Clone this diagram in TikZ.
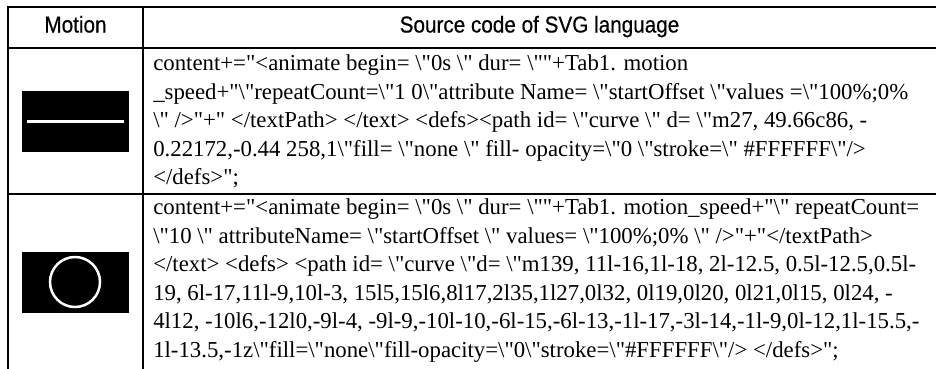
\documentclass[tikz,border=0pt]{standalone}
\usepackage{fontspec}
\setmainfont{Liberation Serif}[Ligatures=TeXOff]
\newfontfamily\headfont{Liberation Sans}[FakeStretch=0.9,FakeBold=0.5]
\usepackage{tikz}
\newcommand{\bsl}{\textbackslash}

\begin{document}
\begin{tikzpicture}[x=1pt,y=-1pt,line width=2.5pt,
  head/.style={font=\headfont\fontsize{23}{27}\selectfont,anchor=base},
  code/.style={font=\fontsize{22.8}{28.5}\selectfont,align=left,anchor=north west,inner sep=0pt}]
\useasboundingbox (0,0) rectangle (936,368);
\draw (8,7) -- (940,7);
\draw (8,48) -- (940,48);
\draw (8,194) -- (940,194);
\draw (8,5.75) -- (8,372);
\draw (143,7) -- (143,372);
\node[head] (motion) at (75.5,32.5) {Motion};
\node[head] (source) at (539.5,32.5) {Source code of SVG language};
\fill (22,91) rectangle (129,152);
\draw[white,line width=3pt] (27,121) -- (124,121);
\fill (22,252) rectangle (129,313);
\draw[white] (75,282) circle (25);
\node[code] (code1) at (152,53.5) {content+="<animate begin= \bsl"0s \bsl" dur= \bsl""+Tab1. motion\\
\_speed+"\bsl"repeatCount=\bsl"1 0\bsl"attribute Name= \bsl"startOffset \bsl"values =\bsl"100\%;0\%\\
\bsl" />"+" </textPath> </text> <defs><path id= \bsl"curve \bsl" d= \bsl"m27, 49.66c86, -\\
0.22172,-0.44 258,1\bsl"fill= \bsl"none \bsl" fill- opacity=\bsl"0 \bsl"stroke=\bsl" \#FFFFFF\bsl"/>\\
</defs>";};
\node[code] (code2) at (152,197.5) {content+="<animate begin= \bsl"0s \bsl" dur= \bsl""+Tab1. motion\_speed+"\bsl" repeatCount=\\
\bsl"10 \bsl" attributeName= \bsl"startOffset \bsl" values= \bsl"100\%;0\% \bsl" />"+"</textPath>\\
</text> <defs> <path id= \bsl"curve \bsl"d= \bsl"m139, 11l-16,1l-18, 2l-12.5, 0.5l-12.5,0.5l-\\
19, 6l-17,11l-9,10l-3, 15l5,15l6,8l17,2l35,1l27,0l32, 0l19,0l20, 0l21,0l15, 0l24, -\\
4l12, -10l6,-12l0,-9l-4, -9l-9,-10l-10,-6l-15,-6l-13,-1l-17,-3l-14,-1l-9,0l-12,1l-15.5,-\\
1l-13.5,-1z\bsl"fill=\bsl"none\bsl"fill-opacity=\bsl"0\bsl"stroke=\bsl"\#FFFFFF\bsl"/> </defs>";};
\end{tikzpicture}
\end{document}
